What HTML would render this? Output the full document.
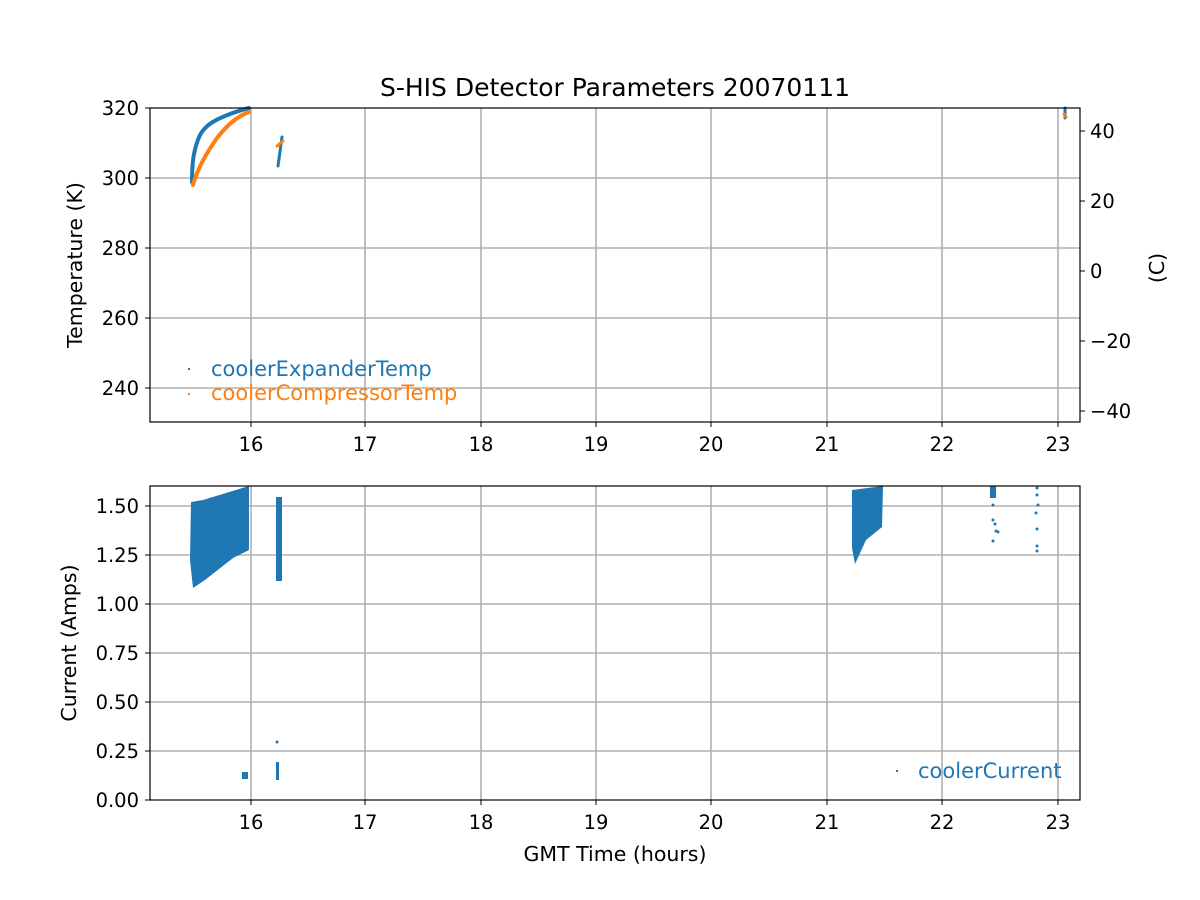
<!DOCTYPE html>
<html><head><meta charset="utf-8"><style>body{margin:0;background:#fff}svg{display:block}text{font-family:"DejaVu Sans","Liberation Sans",sans-serif;fill:#000}</style></head><body>
<svg width="1200" height="900" xmlns="http://www.w3.org/2000/svg">
<rect width="1200" height="900" fill="#fff"/>
<g stroke="#b0b0b0" stroke-width="1.6">
<line x1="251" y1="108" x2="251" y2="422"/><line x1="365" y1="108" x2="365" y2="422"/><line x1="481" y1="108" x2="481" y2="422"/><line x1="596" y1="108" x2="596" y2="422"/><line x1="711" y1="108" x2="711" y2="422"/><line x1="827" y1="108" x2="827" y2="422"/><line x1="942" y1="108" x2="942" y2="422"/><line x1="1058" y1="108" x2="1058" y2="422"/>
<line x1="150" y1="178" x2="1080" y2="178"/><line x1="150" y1="248" x2="1080" y2="248"/><line x1="150" y1="318" x2="1080" y2="318"/><line x1="150" y1="388" x2="1080" y2="388"/>
<line x1="251" y1="486" x2="251" y2="800"/><line x1="365" y1="486" x2="365" y2="800"/><line x1="481" y1="486" x2="481" y2="800"/><line x1="596" y1="486" x2="596" y2="800"/><line x1="711" y1="486" x2="711" y2="800"/><line x1="827" y1="486" x2="827" y2="800"/><line x1="942" y1="486" x2="942" y2="800"/><line x1="1058" y1="486" x2="1058" y2="800"/>
<line x1="150" y1="506" x2="1080" y2="506"/><line x1="150" y1="555" x2="1080" y2="555"/><line x1="150" y1="604" x2="1080" y2="604"/><line x1="150" y1="653" x2="1080" y2="653"/><line x1="150" y1="702" x2="1080" y2="702"/><line x1="150" y1="751" x2="1080" y2="751"/>
</g>
<g fill="none" stroke-linecap="round">
<path d="M192,182 C192,165 193,150 200,135 C206,124 217,119 230,114 C238,111 245,109 249,108" stroke="#1f77b4" stroke-width="4"/>
<path d="M193,185 C197,170 205,155 217,138 C227,125 238,116 249,112" stroke="#ff7f0e" stroke-width="4"/>
<path d="M278,166 L282,137" stroke="#1f77b4" stroke-width="3"/>
<path d="M277,146 L283,141" stroke="#ff7f0e" stroke-width="3"/>
<path d="M1065,108 L1065,118" stroke="#1f77b4" stroke-width="3"/>
<path d="M1064,114 L1066,117" stroke="#ff7f0e" stroke-width="3"/>
</g>
<g fill="#1f77b4">
<polygon points="191,502 203,500 249,486 249,550 233,558 205,580 193,588 190,560"/>
<rect x="276" y="497" width="6" height="84"/>
<polygon points="852,490 883,486 882,527 866,540 855,564 852,548"/>
<rect x="242" y="772" width="6" height="7"/>
<circle cx="277" cy="742" r="1.5"/><rect x="276" y="762" width="3" height="18"/>
<rect x="990" y="486" width="6" height="12"/><circle cx="993" cy="505" r="1.5"/><circle cx="993" cy="520" r="1.5"/><circle cx="995" cy="524" r="1.5"/><circle cx="996" cy="531" r="1.5"/><circle cx="998" cy="532" r="1.5"/><circle cx="993" cy="541" r="1.5"/>
<circle cx="1037" cy="488" r="1.5"/><circle cx="1037" cy="495" r="1.5"/><circle cx="1038" cy="505" r="1.5"/><circle cx="1036" cy="513" r="1.5"/><circle cx="1037" cy="529" r="1.5"/><circle cx="1037" cy="546" r="1.5"/><circle cx="1037" cy="551" r="1.5"/>
</g>
<rect x="150" y="108" width="930" height="314" fill="none" stroke="#000" stroke-width="1.2"/>
<rect x="150" y="486" width="930" height="314" fill="none" stroke="#000" stroke-width="1.2"/>
<g stroke="#000" stroke-width="1">
<path d="M251,422v5M365,422v5M481,422v5M596,422v5M711,422v5M827,422v5M942,422v5M1058,422v5"/>
<path d="M251,800v5M365,800v5M481,800v5M596,800v5M711,800v5M827,800v5M942,800v5M1058,800v5"/>
<path d="M150,108h-5M150,178h-5M150,248h-5M150,318h-5M150,388h-5"/>
<path d="M1080,131h5M1080,201h5M1080,271h5M1080,341h5M1080,411h5"/>
<path d="M150,506h-5M150,555h-5M150,604h-5M150,653h-5M150,702h-5M150,751h-5M150,800h-5"/>
</g>
<g style="font-size:19.5px">
<text x="251" y="451" text-anchor="middle">16</text><text x="365" y="451" text-anchor="middle">17</text><text x="481" y="451" text-anchor="middle">18</text><text x="596" y="451" text-anchor="middle">19</text><text x="711" y="451" text-anchor="middle">20</text><text x="827" y="451" text-anchor="middle">21</text><text x="942" y="451" text-anchor="middle">22</text><text x="1058" y="451" text-anchor="middle">23</text>
<text x="251" y="829" text-anchor="middle">16</text><text x="365" y="829" text-anchor="middle">17</text><text x="481" y="829" text-anchor="middle">18</text><text x="596" y="829" text-anchor="middle">19</text><text x="711" y="829" text-anchor="middle">20</text><text x="827" y="829" text-anchor="middle">21</text><text x="942" y="829" text-anchor="middle">22</text><text x="1058" y="829" text-anchor="middle">23</text>
<text x="139" y="115" text-anchor="end">320</text><text x="139" y="185" text-anchor="end">300</text><text x="139" y="255" text-anchor="end">280</text><text x="139" y="325" text-anchor="end">260</text><text x="139" y="395" text-anchor="end">240</text>
<text x="1090" y="138">40</text><text x="1090" y="208">20</text><text x="1090" y="278">0</text><text x="1090" y="348">−20</text><text x="1090" y="418">−40</text>
<text x="139" y="513" text-anchor="end">1.50</text><text x="139" y="562" text-anchor="end">1.25</text><text x="139" y="611" text-anchor="end">1.00</text><text x="139" y="660" text-anchor="end">0.75</text><text x="139" y="709" text-anchor="end">0.50</text><text x="139" y="758" text-anchor="end">0.25</text><text x="139" y="807" text-anchor="end">0.00</text>
</g>
<text x="615" y="96" text-anchor="middle" style="font-size:25px">S-HIS Detector Parameters 20070111</text>
<text x="615" y="861" text-anchor="middle" style="font-size:20.5px">GMT Time (hours)</text>
<text transform="translate(82,265) rotate(-90)" text-anchor="middle" style="font-size:20.5px">Temperature (K)</text>
<text transform="translate(1164,268) rotate(-90)" text-anchor="middle" style="font-size:20.5px">(C)</text>
<text transform="translate(76,643) rotate(-90)" text-anchor="middle" style="font-size:20.5px">Current (Amps)</text>
<rect x="188" y="368" width="2" height="2" fill="#1f77b4"/>
<text x="211" y="376" style="fill:#1f77b4;font-size:21px">coolerExpanderTemp</text>
<rect x="188" y="393" width="2" height="2" fill="#ff7f0e"/>
<text x="211" y="400" style="fill:#ff7f0e;font-size:21px">coolerCompressorTemp</text>
<rect x="896" y="770" width="2" height="2" fill="#1f77b4"/>
<text x="918" y="778" style="fill:#1f77b4;font-size:21px">coolerCurrent</text>
</svg>
</body></html>
